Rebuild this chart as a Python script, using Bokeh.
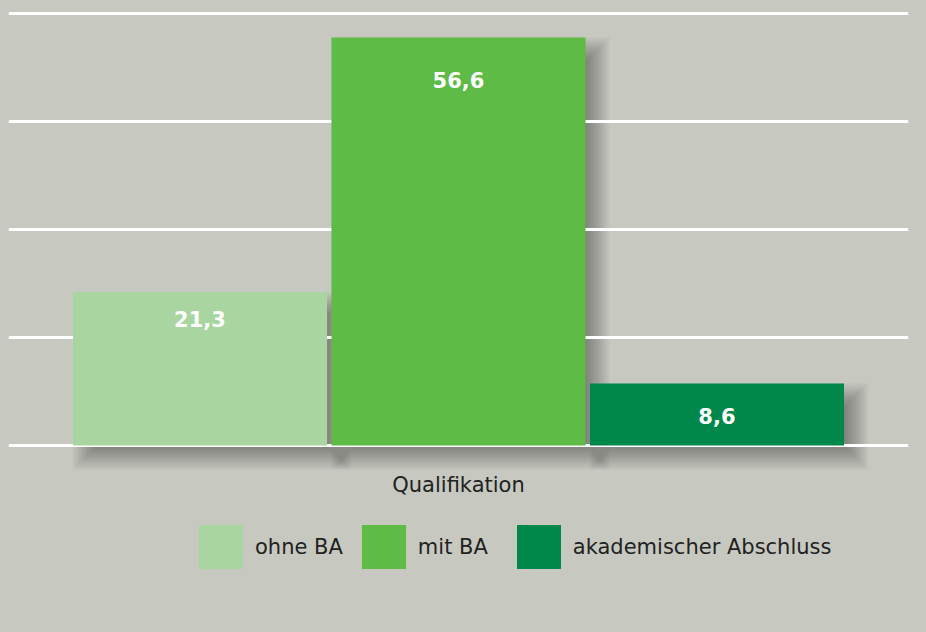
from bokeh.plotting import figure
from bokeh.models import Range1d, FixedTicker, Legend, LegendItem, ColumnDataSource
from bokeh.core.properties import value
from bokeh.embed import file_html
from bokeh.resources import INLINE

# ---- data ----
category = "Qualifikation"
series = ["ohne BA", "mit BA", "akademischer Abschluss"]
values = [21.3, 56.6, 8.6]
value_labels = ["21,3", "56,6", "8,6"]
grid_ticks = [0, 15, 30, 45, 60]

# ---- style ----
colors = ["#a9d5a0", "#5dbb46", "#00884a"]
BG = "#c7c9c0"
FONT = "DejaVu Sans"
label_offsets_px = [27, 42, 32]
bar_width = 0.983

W, H = 926, 632
border_l, border_r, border_t, border_b = 8, 18, 10, 40
frame_w = W - border_l - border_r
frame_h = H - border_t - border_b
px_per_y = 7.208
y_hi = 60.35
y_lo = y_hi - frame_h / px_per_y
x_lo, x_hi = -0.741, 2.741
px_per_x = frame_w / (x_hi - x_lo)

p = figure(width=W, height=H, output_backend="svg", toolbar_location=None,
           x_range=Range1d(x_lo, x_hi), y_range=Range1d(y_lo, y_hi),
           min_border_left=border_l, min_border_right=border_r,
           min_border_top=border_t, min_border_bottom=border_b)
p.background_fill_color = BG
p.border_fill_color = BG
p.outline_line_color = None

xs = list(range(len(series)))

# drop shadows (layered translucent quads, offset right/down)
sdx, sdy = 12, 12
for e in range(-12, 13, 2):
    left = [x - bar_width / 2 + (sdx - e) / px_per_x for x in xs]
    right = [x + bar_width / 2 + (sdx + e) / px_per_x for x in xs]
    top = [v - (sdy - e) / px_per_y for v in values]
    bottom = [0 - (sdy + e) / px_per_y for _ in values]
    p.quad(left=left, right=right, top=top, bottom=bottom,
           fill_color="black", fill_alpha=0.03, line_color=None, level="image")

src = ColumnDataSource(dict(x=xs, top=values, color=colors, name=series,
                            lab=value_labels, off=label_offsets_px))
bars = p.vbar(x="x", top="top", bottom=0, width=bar_width, fill_color="color",
              line_color=None, source=src)

p.text(x="x", y="top", text="lab", y_offset="off", source=src,
       text_color="white", text_font=value(FONT), text_font_style="bold",
       text_font_size="21px", text_align="center", text_baseline="middle")

# axes / grid
p.yaxis.visible = False
xa = p.xaxis[0]
xa.fixed_location = 0
xa.ticker = FixedTicker(ticks=[])
xa.axis_line_color = None
xa.major_tick_line_color = None
xa.minor_tick_line_color = None
xa.major_label_text_font_size = "0px"
xa.axis_label = category
xa.axis_label_text_font = FONT
xa.axis_label_text_font_style = "normal"
xa.axis_label_text_font_size = "21px"
xa.axis_label_text_color = "#222222"
xa.axis_label_standoff = 27
p.xgrid.visible = False
p.ygrid.ticker = FixedTicker(ticks=grid_ticks)
p.ygrid.grid_line_color = "white"
p.ygrid.grid_line_width = 3

items = [LegendItem(label=s, renderers=[bars], index=i) for i, s in enumerate(series)]
legend = Legend(items=items, orientation="horizontal", location=(185, 18),
                glyph_width=55, glyph_height=55, label_standoff=7, spacing=13,
                label_width=80, padding=0, margin=0,
                border_line_color=None, background_fill_alpha=0,
                label_text_font=FONT, label_text_font_size="21px",
                label_text_color="#222222", label_text_baseline="middle")
p.add_layout(legend, "center")

html = file_html(p, INLINE)
html = html.replace("<head>", "<head><style>body{background:%s;}</style>" % BG, 1)
open("out.html", "w").write(html)
